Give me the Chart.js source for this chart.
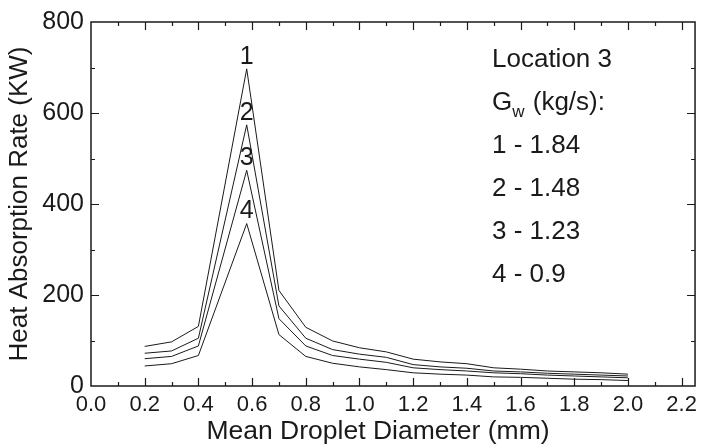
<!DOCTYPE html>
<html>
<head>
<meta charset="utf-8">
<script src="https://cdn.jsdelivr.net/npm/chart.js@4/dist/chart.umd.min.js"></script>
<style>
  html, body { margin: 0; padding: 0; background: #fff; }
  #wrap { width: 703px; height: 448px; }
</style>
</head>
<body>
<div id="wrap"><canvas id="c" width="703" height="448"></canvas></div>
<script>
// droplet diameter (mm)
const diameters = [0.2, 0.3, 0.4, 0.58, 0.7, 0.8, 0.9, 1.0, 1.1, 1.2, 1.3, 1.4, 1.5, 1.6, 1.7, 1.8, 1.9, 2.0];

// heat absorption rate (KW) for each water flow
const curve1 = [87, 97, 131, 697, 210, 129, 99, 84, 75, 59, 53, 49, 40, 37, 33, 31, 29, 26];
const curve2 = [72, 77, 105, 574, 176, 105, 80, 70, 63, 47, 42, 39, 33, 31, 28, 26, 24, 22];
const curve3 = [60, 65, 88, 474, 148, 88, 67, 59, 52, 40, 36, 33, 29, 27, 24, 22, 20, 18];
const curve4 = [44, 49, 67, 357, 113, 65, 50, 42, 36, 29, 26, 24, 20, 19, 17, 15, 14, 12];

const curveLabels = ["1", "2", "3", "4"];
const flowRates = ["1.84", "1.48", "1.23", "0.9"];

const xTicks = [0.0, 0.2, 0.4, 0.6, 0.8, 1.0, 1.2, 1.4, 1.6, 1.8, 2.0, 2.2];
const xTickLabels = ["0.0", "0.2", "0.4", "0.6", "0.8", "1.0", "1.2", "1.4", "1.6", "1.8", "2.0", "2.2"];
const yTicks = [0, 200, 400, 600, 800];

const xTitle = "Mean Droplet Diameter (mm)";
const yTitle = "Heat Absorption Rate (KW)";

const FONT = "'Liberation Sans', Arial, Helvetica, sans-serif";
const INK = "#1a1a1a";

const toPoints = (ys) => ys.map((y, i) => ({ x: diameters[i], y: y }));
const allCurves = [curve1, curve2, curve3, curve4];

// frame, inward ticks, x title, peak numbers and the text block
const framePlugin = {
  id: "frame",
  afterDraw(chart) {
    const ctx = chart.ctx;
    const xs = chart.scales.x;
    const ys = chart.scales.y;
    const a = chart.chartArea;
    ctx.save();
    ctx.strokeStyle = INK;
    ctx.lineWidth = 1.5;
    ctx.strokeRect(a.left, a.top, a.right - a.left, a.bottom - a.top);

    ctx.lineWidth = 1.2;
    ctx.beginPath();
    for (let i = 1; i <= 22; i++) {
      const v = i / 10;
      const px = Math.round(xs.getPixelForValue(v)) + 0.5;
      const len = i % 2 === 0 ? 8 : 4;
      ctx.moveTo(px, a.bottom); ctx.lineTo(px, a.bottom - len);
      ctx.moveTo(px, a.top); ctx.lineTo(px, a.top + len);
    }
    for (let v = 100; v < 800; v += 100) {
      const py = Math.round(ys.getPixelForValue(v)) + 0.5;
      const len = v % 200 === 0 ? 8 : 4;
      ctx.moveTo(a.left, py); ctx.lineTo(a.left + len, py);
      ctx.moveTo(a.right, py); ctx.lineTo(a.right - len, py);
    }
    ctx.stroke();

    ctx.fillStyle = INK;

    // x axis title (sits a little left of centre in the original)
    ctx.font = "26.5px " + FONT;
    ctx.textAlign = "center";
    ctx.textBaseline = "alphabetic";
    ctx.fillText(xTitle, a.left + 287, 439);

    // curve numbers above the peaks
    ctx.font = "25px " + FONT;
    ctx.textBaseline = "middle";
    const peakIdx = 3;
    allCurves.forEach((c, i) => {
      const px = xs.getPixelForValue(diameters[peakIdx]);
      const py = ys.getPixelForValue(c[peakIdx]);
      ctx.fillText(curveLabels[i], px, py - 12);
    });

    // text block
    ctx.textAlign = "left";
    const tx = a.left + 401;
    let ty = a.top + 38;
    const step = 43;
    ctx.font = "26px " + FONT;
    ctx.fillText("Location 3", tx, ty);
    ty += step;
    ctx.fillText("G", tx, ty);
    const gw = ctx.measureText("G").width;
    ctx.font = "17px " + FONT;
    ctx.fillText("w", tx + gw, ty + 9);
    const ww = ctx.measureText("w").width;
    ctx.font = "26px " + FONT;
    ctx.fillText(" (kg/s):", tx + gw + ww + 1, ty);
    flowRates.forEach((r, i) => {
      ty += step;
      ctx.fillText(curveLabels[i] + " - " + r, tx, ty);
    });
    ctx.restore();
  }
};

new Chart(document.getElementById("c"), {
  type: "line",
  data: {
    datasets: allCurves.map((c, i) => ({
      label: curveLabels[i],
      data: toPoints(c),
      borderColor: INK,
      borderWidth: 1,
      pointRadius: 0,
      tension: 0,
      fill: false
    }))
  },
  options: {
    responsive: false,
    animation: false,
    layout: { padding: { top: 15, right: 4, left: 0, bottom: 0 } },
    plugins: { legend: { display: false }, tooltip: { enabled: false } },
    scales: {
      x: {
        type: "linear",
        min: 0,
        max: 2.25,
        afterBuildTicks: (s) => { s.ticks = xTicks.map(v => ({ value: v })); },
        afterFit: (s) => { s.height = 62; },
        grid: { display: false, drawTicks: false },
        border: { display: false },
        ticks: {
          autoSkip: false,
          maxRotation: 0,
          padding: 6,
          color: INK,
          font: { family: FONT, size: 22 },
          callback: (v) => {
            const k = xTicks.findIndex(t => Math.abs(t - v) < 1e-6);
            return k >= 0 ? xTickLabels[k] : null;
          }
        },
        title: { display: false }
      },
      y: {
        min: 0,
        max: 800,
        afterBuildTicks: (s) => { s.ticks = yTicks.map(v => ({ value: v })); },
        afterFit: (s) => { s.width = 91; },
        grid: { display: false, drawTicks: false },
        border: { display: false },
        ticks: {
          padding: 7,
          color: INK,
          font: { family: FONT, size: 25 }
        },
        title: {
          display: true,
          text: yTitle,
          color: INK,
          font: { family: FONT, size: 26 },
          padding: { top: 4, bottom: 0 }
        }
      }
    }
  },
  plugins: [framePlugin]
});
</script>
</body>
</html>
